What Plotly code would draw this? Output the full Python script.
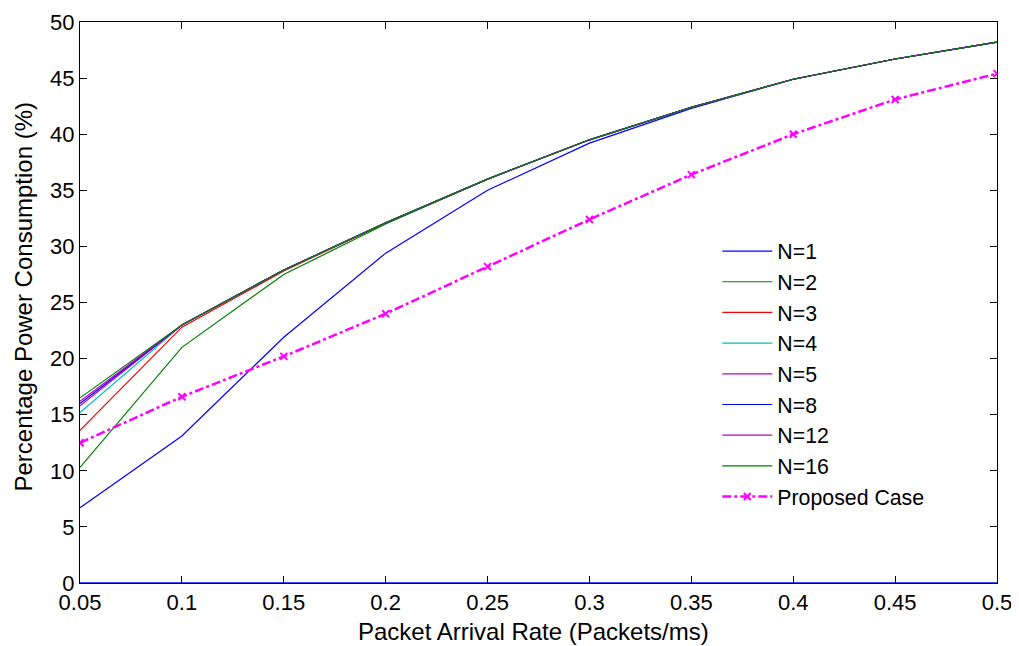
import plotly.graph_objects as go

x = [0.05, 0.1, 0.15, 0.2, 0.25, 0.3, 0.35, 0.4, 0.45, 0.5]
x_labels = ["0.05", "0.1", "0.15", "0.2", "0.25", "0.3", "0.35", "0.4", "0.45", "0.5"]

n1 = [6.7, 13.1, 21.9, 29.4, 35.0, 39.2, 42.3, 44.9, 46.7, 48.2]
n2 = [10.3, 21.0, 27.5, 32.0, 36.0, 39.5, 42.4, 44.9, 46.7, 48.2]
n3 = [13.6, 22.8, 27.8, 32.1, 36.0, 39.5, 42.4, 44.9, 46.7, 48.2]
n4 = [15.2, 23.0, 27.9, 32.1, 36.0, 39.5, 42.4, 44.9, 46.7, 48.2]
n5 = [15.8, 23.0, 27.9, 32.1, 36.0, 39.5, 42.4, 44.9, 46.7, 48.2]
n8 = [16.0, 23.0, 27.9, 32.1, 36.0, 39.5, 42.4, 44.9, 46.7, 48.2]
n12 = [16.2, 23.0, 27.9, 32.1, 36.0, 39.5, 42.4, 44.9, 46.7, 48.2]
n16 = [16.5, 23.0, 27.9, 32.1, 36.0, 39.5, 42.4, 44.9, 46.7, 48.2]
proposed = [12.5, 16.6, 20.2, 24.0, 28.2, 32.4, 36.4, 40.0, 43.1, 45.4]
baseline = [0] * len(x)

names = ["N=1", "N=2", "N=3", "N=4", "N=5", "N=8", "N=12", "N=16"]
series = [n1, n2, n3, n4, n5, n8, n12, n16]
colors = ["#0000FF", "#008000", "#FF0000", "#00BFBF", "#BF00BF", "#0000FF", "#BF00BF", "#008000"]

fig = go.Figure()
fig.add_trace(go.Scatter(x=x, y=baseline, mode="lines", line=dict(color="#0000FF", width=1.5),
                         showlegend=False, hoverinfo="skip"))
for name, ys, c in zip(names, series, colors):
    fig.add_trace(go.Scatter(x=x, y=ys, mode="lines", name=name, line=dict(color=c, width=1.2)))
fig.add_trace(go.Scatter(x=x, y=proposed, mode="lines+markers", name="Proposed Case",
                         line=dict(color="#FF00FF", width=2.5, dash="dashdot"),
                         marker=dict(symbol="x-thin", size=7, line=dict(color="#FF00FF", width=2))))

fam = "Liberation Sans, Arial, sans-serif"
tick_font = dict(family=fam, size=22, color="black")
title_font = dict(family=fam, size=24, color="black")
axis_common = dict(showgrid=False, zeroline=False, showline=True, linecolor="black", linewidth=1,
                   mirror="ticks", ticks="inside", ticklen=7, tickcolor="black",
                   tickfont=tick_font, automargin=False)
fig.update_layout(
    width=1011, height=638,
    margin=dict(l=72, r=22, t=14, b=63),
    paper_bgcolor="white", plot_bgcolor="white",
    font=title_font,
    xaxis=dict(range=[0.05, 0.5], tickvals=x, ticktext=x_labels, **axis_common),
    yaxis=dict(range=[0, 50], dtick=5, **axis_common),
    legend=dict(x=0.695, y=0.628, xanchor="left", yanchor="top", bgcolor="rgba(255,255,255,0)",
                borderwidth=0, font=dict(family=fam, size=21.3, color="black"), itemwidth=50, tracegroupgap=0),
    showlegend=True,
    annotations=[
        dict(text="Packet Arrival Rate (Packets/ms)", xref="paper", yref="paper", x=0.495, y=-0.0873,
             xanchor="center", yanchor="middle", showarrow=False, font=title_font),
        dict(text="Percentage Power Consumption (%)", xref="paper", yref="paper", x=-0.0615, y=0.51,
             xanchor="center", yanchor="middle", showarrow=False, textangle=-90, font=title_font),
    ],
)

fig.write_html("out.html")
